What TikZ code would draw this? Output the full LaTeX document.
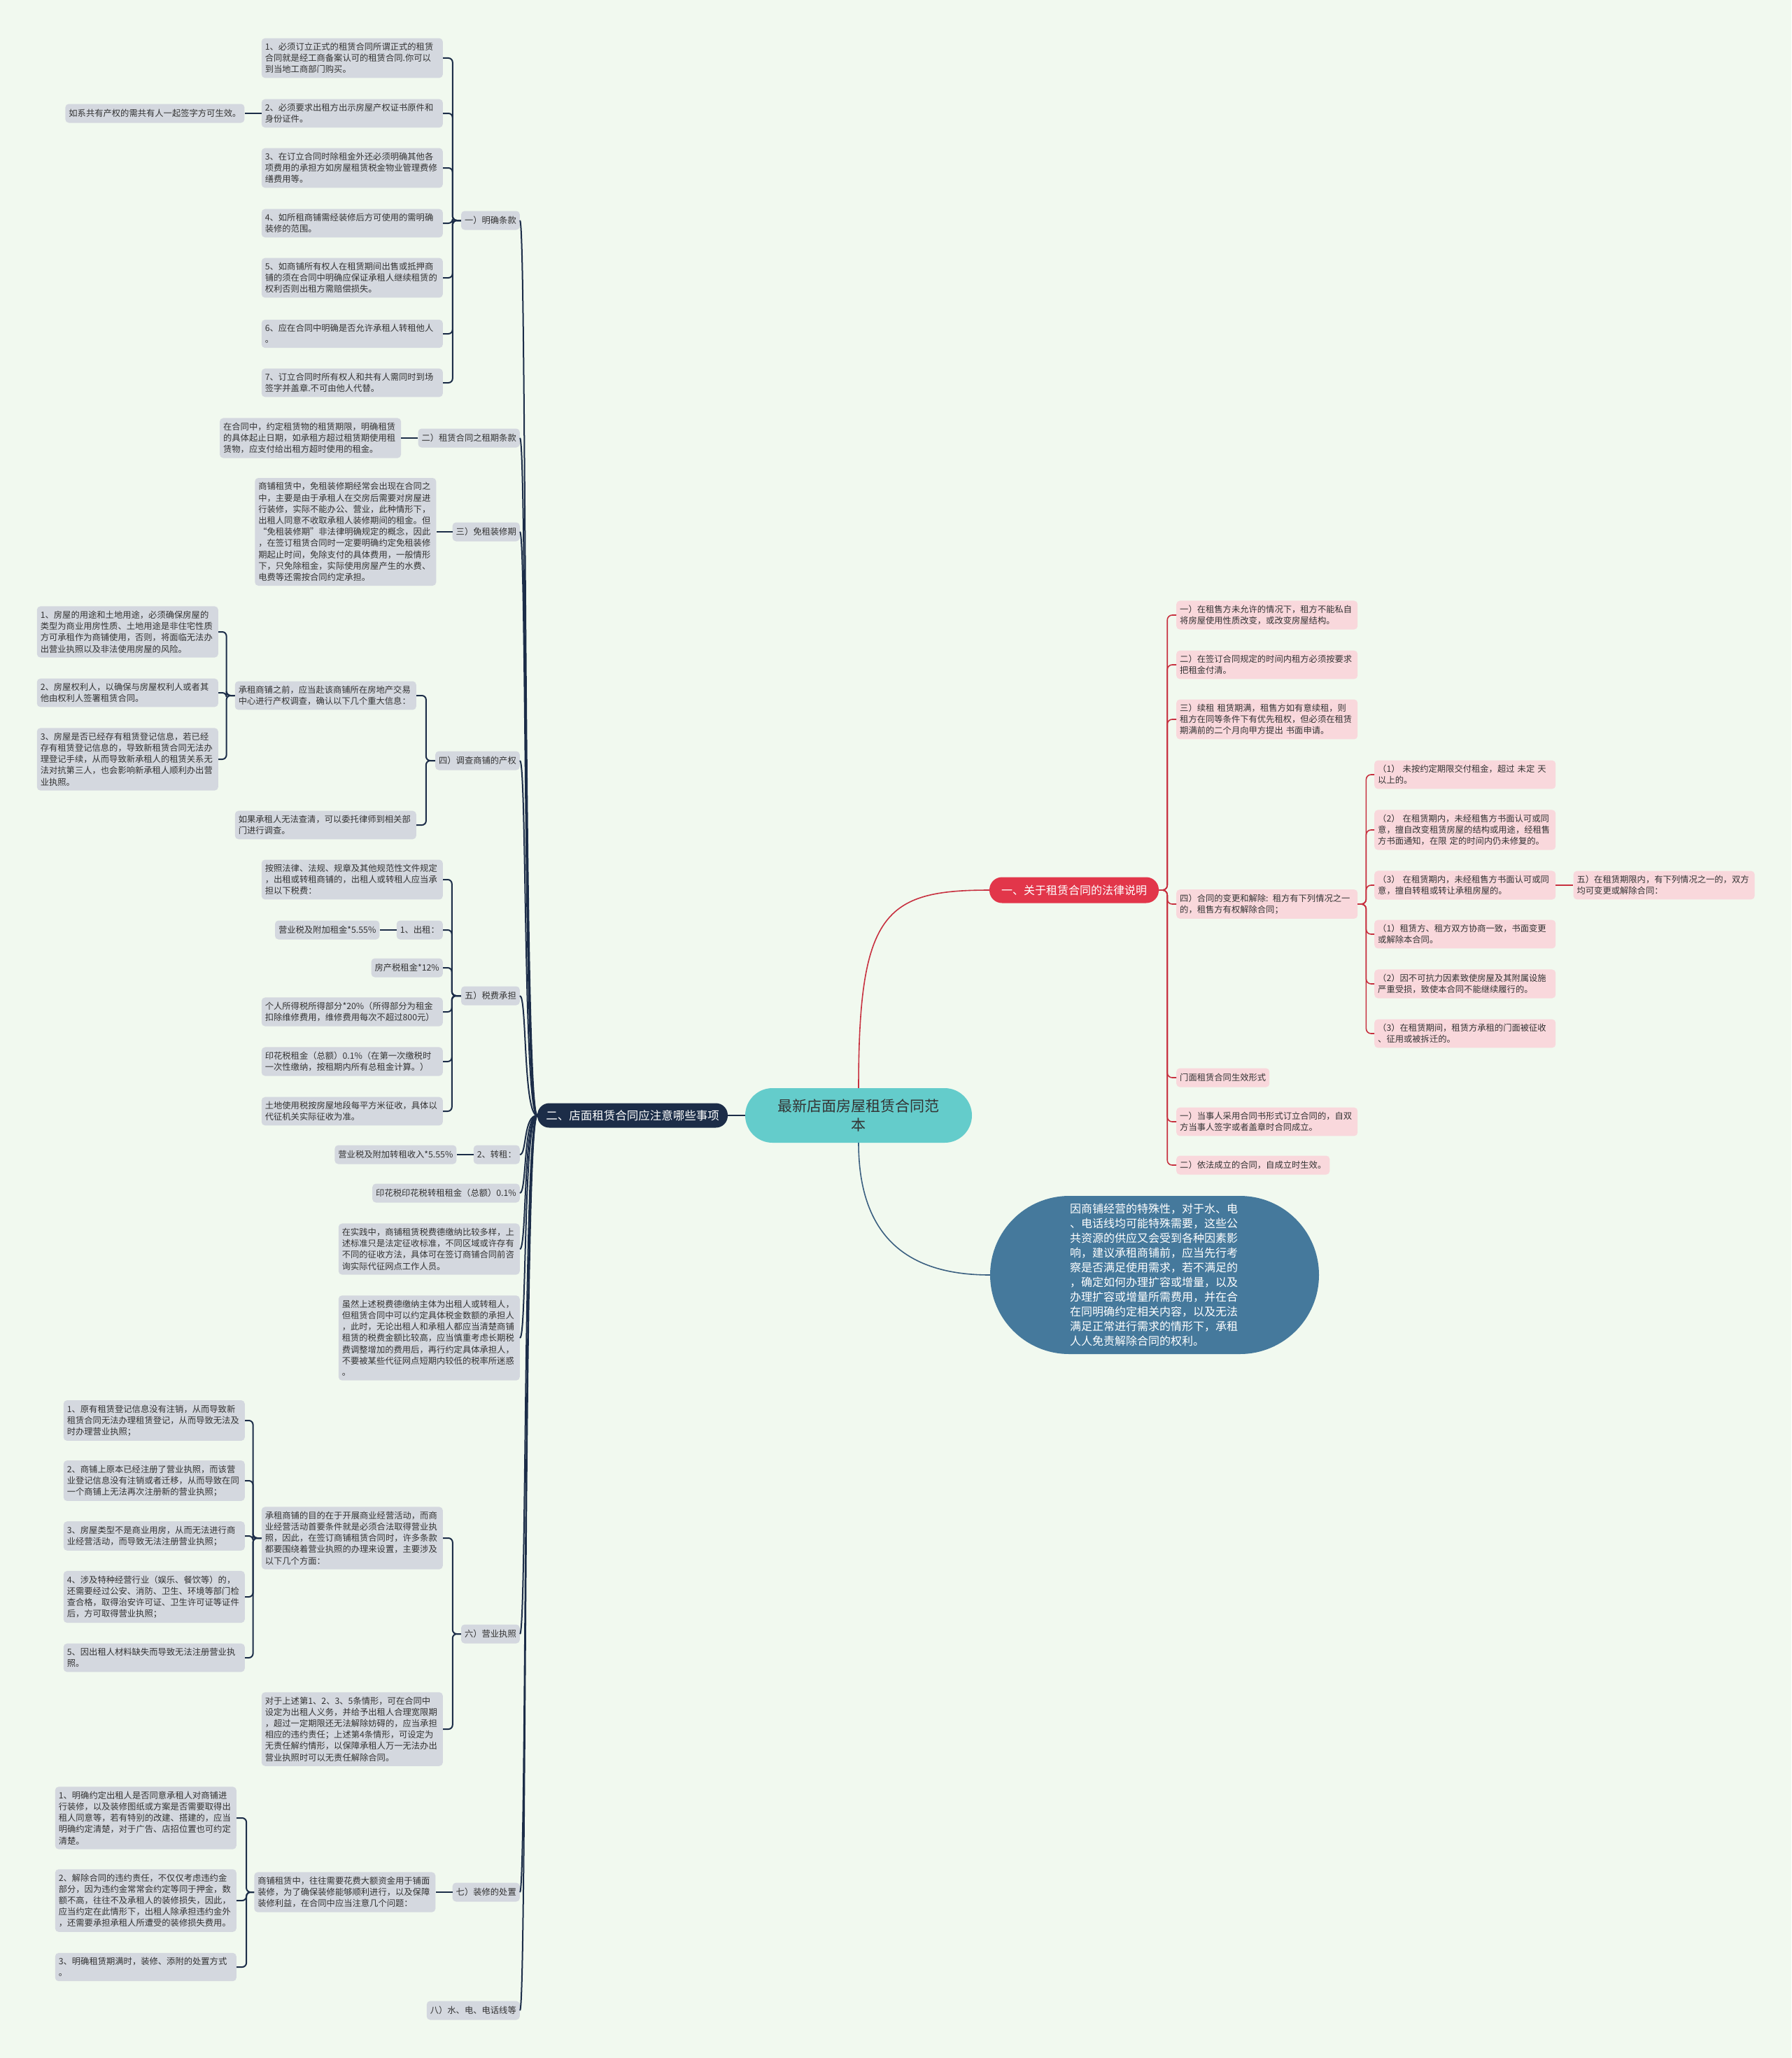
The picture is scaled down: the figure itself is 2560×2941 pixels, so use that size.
\documentclass[tikz,border=0pt]{standalone}
\usepackage{fontspec}
\setmainfont{Noto Sans CJK SC}
\usetikzlibrary{positioning}
\definecolor{pagebg}{HTML}{F1F9EF}
\definecolor{leafgray}{HTML}{D4D8DF}
\definecolor{leafpink}{HTML}{F9D8DC}
\definecolor{inkdark}{HTML}{333333}
\definecolor{navyline}{HTML}{1C2D48}
\definecolor{rosered}{HTML}{E2364A}
\definecolor{linered}{HTML}{C7303F}
\definecolor{rootteal}{HTML}{64CCCB}
\definecolor{bubbleblue}{HTML}{45799C}
\definecolor{linesteel}{HTML}{3A5F80}
\newcommand\leaffont{\fontsize{12.3}{16.2}\selectfont}
\tikzset{
  leaf/.style={fill=leafgray,text=inkdark,rounded corners=5pt,align=left,
               font=\leaffont,inner xsep=5pt,inner ysep=6.5pt,minimum height=27pt},
  leafwide/.style={leaf,text width=249pt},
  pinkleaf/.style={leaf,fill=leafpink},
  pinkwide/.style={pinkleaf,text width=249pt},
  navyflow/.style={draw=navyline,line width=2pt},
  bracket/.style={navyflow,rounded corners=6pt},
  redflow/.style={draw=linered,line width=1.6pt,rounded corners=7pt}
}
\begin{document}
\begin{tikzpicture}[x=1pt,y=-1pt,node distance=24pt,
  rootnode/.style={fill=rootteal,text=inkdark,rounded corners=39pt,align=center,
                   minimum width=324pt,minimum height=78pt,
                   font=\fontsize{21}{27}\selectfont},
  darkbranch/.style={fill=navyline,text=white,rounded corners=17pt,
                     minimum width=272pt,minimum height=35pt,
                     font=\fontsize{16.5}{20}\selectfont},
  redbranch/.style={fill=rosered,text=white,rounded corners=18pt,
                    minimum width=242pt,minimum height=37pt,
                    font=\fontsize{16}{20}\selectfont},
  bubble/.style={fill=bubbleblue,text=white,rounded corners=113pt,align=left,
                 text width=242pt,minimum width=470pt,minimum height=226pt,
                 font=\fontsize{16}{21}\selectfont}
]
  \fill[pagebg] (0,0) rectangle (2560,2941);
  \useasboundingbox (0,0) rectangle (2560,2941);

  % centre and main branches
  \node[rootnode] (root) at (1227,1594) {最新店面房屋租赁合同范\\本};
  \node[darkbranch] (sec2) at (904,1594) {二、店面租赁合同应注意哪些事项};
  \node[redbranch] (sec1) at (1535,1272) {一、关于租赁合同的法律说明};
  \node[bubble] (bubble) at (1650,1822)
    {因商铺经营的特殊性，对于水、电\\、电话线均可能特殊需要，这些公\\共资源的供应又会受到各种因素影\\响，建议承租商铺前，应当先行考\\察是否满足使用需求，若不满足的\\，确定如何办理扩容或增量，以及\\办理扩容或增量所需费用，并在合\\在同明确约定相关内容，以及无法\\满足正常进行需求的情形下，承租\\人人免责解除合同的权利。};
  \draw[navyflow] (sec2.east) -- (root.west);
  \draw[draw=linered,line width=1.6pt] (root.north) .. controls +(0,-250) and +(-150,0) .. (sec1.west);
  \draw[draw=linesteel,line width=1.6pt] (root.south) .. controls +(0,150) and +(-100,0) .. (bubble.west);

  % left branch, level 1
  \node[leaf,anchor=east] (t1) at (743,315) {一）明确条款};
  \node[leaf,anchor=east] (t2) at (743,626) {二）租赁合同之租期条款};
  \node[leaf,anchor=east] (t3) at (743,760) {三）免租装修期};
  \node[leaf,anchor=east] (t4) at (743,1087) {四）调查商铺的产权};
  \node[leaf,anchor=east] (t5) at (743,1423) {五）税费承担};
  \node[leaf,anchor=east] (resub) at (743,1650) {2、转租：};
  \node[leaf,anchor=east] (stampsub) at (743,1705) {印花税印花税转租租金（总额）0.1\%};
  \node[leafwide,anchor=east] (practice) at (743,1785)
    {在实践中，商铺租赁税费德缴纳比较多样，上\\述标准只是法定征收标准，不同区域或许存有\\不同的征收方法，具体可在签订商铺合同前咨\\询实际代征网点工作人员。};
  \node[leafwide,anchor=east] (notice) at (743,1912)
    {虽然上述税费德缴纳主体为出租人或转租人，\\但租赁合同中可以约定具体税金数额的承担人\\，此时，无论出租人和承租人都应当清楚商铺\\租赁的税费金额比较高，应当慎重考虑长期税\\费调整增加的费用后，再行约定具体承担人，\\不要被某些代征网点短期内较低的税率所迷惑\\。};
  \node[leaf,anchor=east] (t6) at (743,2335) {六）营业执照};
  \node[leaf,anchor=east] (t7) at (743,2704) {七）装修的处置};
  \node[leaf,anchor=east] (t8) at (743,2873) {八）水、电、电话线等};
  \foreach \c in {t1,t2,t3,t4,t5,resub,stampsub,practice,notice,t6,t7,t8}
    \draw[navyflow] (sec2.west) .. controls +(-20,0) and +(10,0) .. (\c.east);

  % 一）明确条款
  \node[leafwide,anchor=east] (t1a) at (633,83)
    {1、必须订立正式的租赁合同所谓正式的租赁\\合同就是经工商备案认可的租赁合同.你可以\\到当地工商部门购买。};
  \node[leafwide,anchor=east] (t1b) at (633,162)
    {2、必须要求出租方出示房屋产权证书原件和\\身份证件。};
  \node[leaf,left=of t1b] (t1bnote) {如系共有产权的需共有人一起签字方可生效。};
  \node[leafwide,anchor=east] (t1c) at (633,240)
    {3、在订立合同时除租金外还必须明确其他各\\项费用的承担方如房屋租赁税金物业管理费修\\缮费用等。};
  \node[leafwide,anchor=east] (t1d) at (633,319)
    {4、如所租商铺需经装修后方可使用的需明确\\装修的范围。};
  \node[leafwide,anchor=east] (t1e) at (633,397)
    {5、如商铺所有权人在租赁期间出售或抵押商\\铺的须在合同中明确应保证承租人继续租赁的\\权利否则出租方需赔偿损失。};
  \node[leafwide,anchor=east] (t1f) at (633,477)
    {6、应在合同中明确是否允许承租人转租他人\\。};
  \node[leafwide,anchor=east] (t1g) at (633,547)
    {7、订立合同时所有权人和共有人需同时到场\\签字并盖章.不可由他人代替。};
  \foreach \c in {t1a,t1b,t1c,t1d,t1e,t1f,t1g}
    \draw[bracket] (t1.west) -- ++(-12,0) |- (\c.east);
  \draw[navyflow] (t1b.west) -- (t1bnote.east);

  % 二）三）
  \node[leafwide,left=of t2] (t2a)
    {在合同中，约定租赁物的租赁期限，明确租赁\\的具体起止日期，如承租方超过租赁期使用租\\赁物，应支付给出租方超时使用的租金。};
  \node[leafwide,left=23pt of t3] (t3a)
    {商铺租赁中，免租装修期经常会出现在合同之\\中，主要是由于承租人在交房后需要对房屋进\\行装修，实际不能办公、营业，此种情形下，\\出租人同意不收取承租人装修期间的租金。但\\“免租装修期”非法律明确规定的概念，因此\\，在签订租赁合同时一定要明确约定免租装修\\期起止时间，免除支付的具体费用，一般情形\\下，只免除租金，实际使用房屋产生的水费、\\电费等还需按合同约定承担。};
  \draw[navyflow] (t2.west) -- (t2a.east);
  \draw[navyflow] (t3.west) -- (t3a.east);

  % 四）调查商铺的产权
  \node[leafwide,anchor=east] (t4a) at (595,994)
    {承租商铺之前，应当赴该商铺所在房地产交易\\中心进行产权调查，确认以下几个重大信息：};
  \node[leafwide,anchor=east] (t4b) at (595,1179)
    {如果承租人无法查清，可以委托律师到相关部\\门进行调查。};
  \node[leafwide,anchor=east] (t4a1) at (312,903)
    {1、房屋的用途和土地用途，必须确保房屋的\\类型为商业用房性质、土地用途是非住宅性质\\方可承租作为商铺使用，否则，将面临无法办\\出营业执照以及非法使用房屋的风险。};
  \node[leafwide,anchor=east] (t4a2) at (312,990)
    {2、房屋权利人，以确保与房屋权利人或者其\\他由权利人签署租赁合同。};
  \node[leafwide,anchor=east] (t4a3) at (312,1085)
    {3、房屋是否已经存有租赁登记信息，若已经\\存有租赁登记信息的，导致新租赁合同无法办\\理登记手续，从而导致新承租人的租赁关系无\\法对抗第三人，也会影响新承租人顺利办出营\\业执照。};
  \foreach \c in {t4a,t4b}
    \draw[bracket] (t4.west) -- ++(-13,0) |- (\c.east);
  \foreach \c in {t4a1,t4a2,t4a3}
    \draw[bracket] (t4a.west) -- ++(-12,0) |- (\c.east);

  % 五）税费承担
  \node[leafwide,anchor=east] (t5a) at (633,1257)
    {按照法律、法规、规章及其他规范性文件规定\\，出租或转租商铺的，出租人或转租人应当承\\担以下税费：};
  \node[leaf,anchor=east] (t5b) at (633,1329) {1、出租：};
  \node[leaf,left=of t5b] (t5btax) {营业税及附加租金*5.55\%};
  \node[leaf,anchor=east] (t5c) at (633,1383) {房产税租金*12\%};
  \node[leafwide,anchor=east] (t5d) at (633,1446)
    {个人所得税所得部分*20\%（所得部分为租金\\扣除维修费用，维修费用每次不超过800元）};
  \node[leafwide,anchor=east] (t5e) at (633,1517)
    {印花税租金（总额）0.1\%（在第一次缴税时\\一次性缴纳，按租期内所有总租金计算。）};
  \node[leafwide,anchor=east] (t5f) at (633,1588)
    {土地使用税按房屋地段每平方米征收，具体以\\代征机关实际征收为准。};
  \foreach \c in {t5a,t5b,t5c,t5d,t5e,t5f}
    \draw[bracket] (t5.west) -- ++(-13,0) |- (\c.east);
  \draw[navyflow] (t5b.west) -- (t5btax.east);
  \node[leaf,left=of resub] (resubtax) {营业税及附加转租收入*5.55\%};
  \draw[navyflow] (resub.west) -- (resubtax.east);

  % 六）营业执照
  \node[leafwide,anchor=east] (t6a) at (633,2198)
    {承租商铺的目的在于开展商业经营活动，而商\\业经营活动首要条件就是必须合法取得营业执\\照，因此，在签订商铺租赁合同时，许多条款\\都要围绕着营业执照的办理来设置，主要涉及\\以下几个方面：};
  \node[leafwide,anchor=east] (t6b) at (633,2471)
    {对于上述第1、2、3、5条情形，可在合同中\\设定为出租人义务，并给予出租人合理宽限期\\，超过一定期限还无法解除妨碍的，应当承担\\相应的违约责任；上述第4条情形，可设定为\\无责任解约情形，以保障承租人万一无法办出\\营业执照时可以无责任解除合同。};
  \node[leafwide,anchor=east] (t6a1) at (350,2030)
    {1、原有租赁登记信息没有注销，从而导致新\\租赁合同无法办理租赁登记，从而导致无法及\\时办理营业执照；};
  \node[leafwide,anchor=east] (t6a2) at (350,2116)
    {2、商铺上原本已经注册了营业执照，而该营\\业登记信息没有注销或者迁移，从而导致在同\\一个商铺上无法再次注册新的营业执照；};
  \node[leafwide,anchor=east] (t6a3) at (350,2195)
    {3、房屋类型不是商业用房，从而无法进行商\\业经营活动，而导致无法注册营业执照；};
  \node[leafwide,anchor=east] (t6a4) at (350,2282)
    {4、涉及特种经营行业（娱乐、餐饮等）的，\\还需要经过公安、消防、卫生、环境等部门检\\查合格，取得治安许可证、卫生许可证等证件\\后，方可取得营业执照；};
  \node[leafwide,anchor=east] (t6a5) at (350,2369)
    {5、因出租人材料缺失而导致无法注册营业执\\照。};
  \foreach \c in {t6a,t6b}
    \draw[bracket] (t6.west) -- ++(-12,0) |- (\c.east);
  \foreach \c in {t6a1,t6a2,t6a3,t6a4,t6a5}
    \draw[bracket] (t6a.west) -- ++(-12,0) |- (\c.east);

  % 七）装修的处置
  \node[leafwide,left=of t7] (t7a)
    {商铺租赁中，往往需要花费大额资金用于铺面\\装修，为了确保装修能够顺利进行，以及保障\\装修利益，在合同中应当注意几个问题：};
  \node[leafwide,anchor=east] (t7a1) at (338,2598)
    {1、明确约定出租人是否同意承租人对商铺进\\行装修，以及装修图纸或方案是否需要取得出\\租人同意等，若有特别的改建、搭建的，应当\\明确约定清楚，对于广告、店招位置也可约定\\清楚。};
  \node[leafwide,anchor=east] (t7a2) at (338,2716)
    {2、解除合同的违约责任，不仅仅考虑违约金\\部分，因为违约金常常会约定等同于押金，数\\额不高，往往不及承租人的装修损失，因此，\\应当约定在此情形下，出租人除承担违约金外\\，还需要承担承租人所遭受的装修损失费用。};
  \node[leafwide,anchor=east] (t7a3) at (338,2811)
    {3、明确租赁期满时，装修、添附的处置方式\\。};
  \draw[navyflow] (t7.west) -- (t7a.east);
  \foreach \c in {t7a1,t7a2,t7a3}
    \draw[bracket] (t7a.west) -- ++(-11,0) |- (\c.east);

  % right branch
  \node[pinkwide,anchor=west] (r1) at (1681,879)
    {一）在租售方未允许的情况下，租方不能私自\\将房屋使用性质改变，或改变房屋结构。};
  \node[pinkwide,anchor=west] (r2) at (1681,950)
    {二）在签订合同规定的时间内租方必须按要求\\把租金付清。};
  \node[pinkwide,anchor=west] (r3) at (1681,1028)
    {三）续租 租赁期满，租售方如有意续租，则\\租方在同等条件下有优先租权，但必须在租赁\\期满前的二个月向甲方提出 书面申请。};
  \node[pinkwide,anchor=west] (r4) at (1681,1292)
    {四）合同的变更和解除: 租方有下列情况之一\\的，租售方有权解除合同；};
  \node[pinkleaf,anchor=west] (r5) at (1681,1540) {门面租赁合同生效形式};
  \node[pinkwide,anchor=west] (r6) at (1681,1603)
    {一）当事人采用合同书形式订立合同的，自双\\方当事人签字或者盖章时合同成立。};
  \node[pinkleaf,anchor=west] (r7) at (1681,1665) {二）依法成立的合同，自成立时生效。};
  \foreach \c in {r1,r2,r3,r4,r5,r6,r7}
    \draw[redflow] (sec1.east) -- ++(12,0) |- (\c.west);

  % 四）合同的变更和解除
  \node[pinkwide,anchor=west] (r4a) at (1964,1107)
    {（1） 未按约定期限交付租金，超过 未定 天\\以上的。};
  \node[pinkwide,anchor=west] (r4b) at (1964,1186)
    {（2） 在租赁期内，未经租售方书面认可或同\\意，擅自改变租赁房屋的结构或用途，经租售\\方书面通知，在限 定的时间内仍未修复的。};
  \node[pinkwide,anchor=west] (r4c) at (1964,1265)
    {（3） 在租赁期内，未经租售方书面认可或同\\意，擅自转租或转让承租房屋的。};
  \node[pinkwide,anchor=west] (r4d) at (1964,1335)
    {（1）租赁方、租方双方协商一致，书面变更\\或解除本合同。};
  \node[pinkwide,anchor=west] (r4e) at (1964,1406)
    {（2）因不可抗力因素致使房屋及其附属设施\\严重受损，致使本合同不能继续履行的。};
  \node[pinkwide,anchor=west] (r4f) at (1964,1477)
    {（3）在租赁期间，租赁方承租的门面被征收\\、征用或被拆迁的。};
  \node[pinkwide,right=25pt of r4c] (r4cnext)
    {五）在租赁期限内，有下列情况之一的，双方\\均可变更或解除合同：};
  \foreach \c in {r4a,r4b,r4c,r4d,r4e,r4f}
    \draw[redflow] (r4.east) -- ++(12,0) |- (\c.west);
  \draw[redflow] (r4c.east) -- (r4cnext.west);
\end{tikzpicture}
\end{document}
